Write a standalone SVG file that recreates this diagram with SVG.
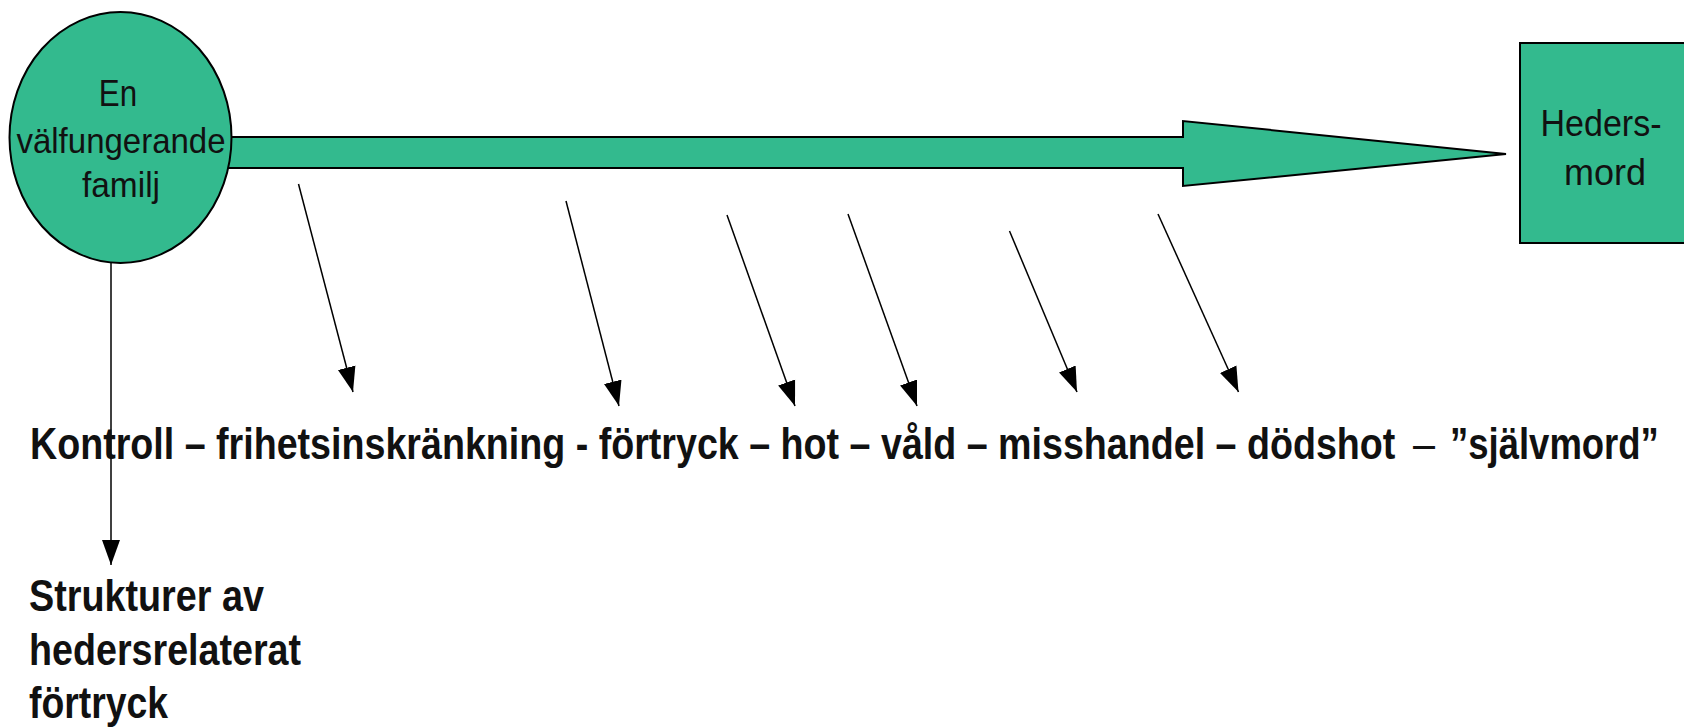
<svg xmlns="http://www.w3.org/2000/svg" width="1684" height="727" viewBox="0 0 1684 727">
<style>
.node{fill:#33BA8E;stroke:#000;stroke-width:2}
.lbl{font-family:"Liberation Sans",Arial,sans-serif;font-size:36px;fill:#111;text-anchor:middle}
.main{font-family:"Liberation Sans",Arial,sans-serif;font-size:45px;font-weight:bold;fill:#111}
.thin{font-family:"Liberation Sans",Arial,sans-serif;font-size:45px;fill:#111}
.conn{stroke:#000;stroke-width:1.5;fill:none;marker-end:url(#ah)}
</style>
<defs>
<marker id="ah" markerUnits="userSpaceOnUse" markerWidth="26" markerHeight="20" refX="25" refY="10" orient="auto">
<path d="M0,1 L25,10 L0,19 Z" fill="#000"/>
</marker>
</defs>
<rect width="1684" height="727" fill="#fff"/>
<g id="connectors">
<polygon class="node" points="224,137 1183,137 1183,121 1506,154 1183,186 1183,168 224,168"/>
<line class="conn" x1="111" y1="263" x2="111" y2="565"/>
<line class="conn" x1="298.5" y1="184" x2="353" y2="392"/>
<line class="conn" x1="566" y1="201" x2="619" y2="406"/>
<line class="conn" x1="727" y1="215" x2="795" y2="406"/>
<line class="conn" x1="848" y1="214" x2="917" y2="406"/>
<line class="conn" x1="1009.5" y1="231" x2="1077" y2="392"/>
<line class="conn" x1="1158" y1="214" x2="1238.5" y2="392"/>
</g>
<g id="familj">
<ellipse class="node" cx="120.5" cy="137.5" rx="111" ry="125.5"/>
<text class="lbl" transform="translate(118,106) scale(0.87,1)">En</text>
<text class="lbl" transform="translate(121,153) scale(0.917,1)">välfungerande</text>
<text class="lbl" transform="translate(121,197) scale(0.93,1)">familj</text>
</g>
<g id="hedersmord">
<rect class="node" x="1520" y="43" width="170" height="200"/>
<text class="lbl" transform="translate(1601,136) scale(0.945,1)">Heders-</text>
<text class="lbl" x="1605" y="185">mord</text>
</g>
<g id="skala">
<text class="main" transform="translate(30,459) scale(0.8365,1)">Kontroll – frihetsinskränkning - förtryck – hot – våld – misshandel – dödshot</text>
<text class="thin" transform="translate(1413,459) scale(0.88,1)">–</text>
<text class="main" transform="translate(1450,459) scale(0.811,1)">”självmord”</text>
</g>
<g id="strukturer">
<text class="main" transform="translate(29,611) scale(0.839,1)">Strukturer av</text>
<text class="main" transform="translate(29,665) scale(0.837,1)">hedersrelaterat</text>
<text class="main" transform="translate(29,718) scale(0.83,1)">förtryck</text>
</g>
</svg>
